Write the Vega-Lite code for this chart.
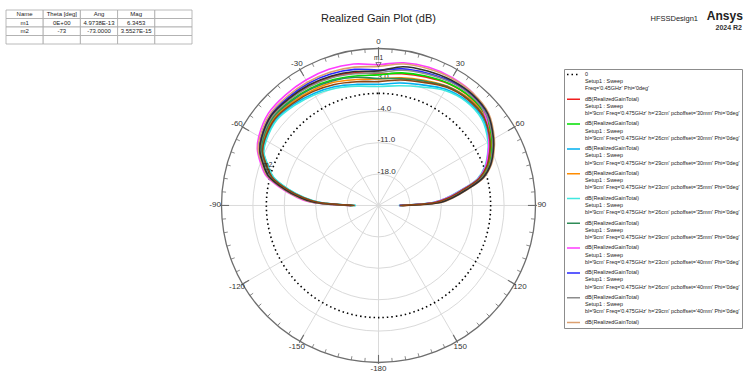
{
  "$schema": "https://vega.github.io/schema/vega-lite/v6.json",
  "background": "white",
  "padding": {"left": 5, "top": 9, "right": 0, "bottom": 0},
  "bounds": "flush",
  "spacing": 7,
  "config": {"view": {"stroke": null}, "font": "Liberation Sans"},
  "datasets": {
    "series": [
      {"s": 1, "name": "dB(RealizedGainTotal)|Setup1 : Sweep|bl='9cm' Freq='0.475GHz' h='23cm' pcboffset='30mm' Phi='0deg'"},
      {"s": 2, "name": "dB(RealizedGainTotal)|Setup1 : Sweep|bl='9cm' Freq='0.475GHz' h='26cm' pcboffset='30mm' Phi='0deg'"},
      {"s": 3, "name": "dB(RealizedGainTotal)|Setup1 : Sweep|bl='9cm' Freq='0.475GHz' h='29cm' pcboffset='30mm' Phi='0deg'"},
      {"s": 4, "name": "dB(RealizedGainTotal)|Setup1 : Sweep|bl='9cm' Freq='0.475GHz' h='23cm' pcboffset='35mm' Phi='0deg'"},
      {"s": 5, "name": "dB(RealizedGainTotal)|Setup1 : Sweep|bl='9cm' Freq='0.475GHz' h='26cm' pcboffset='35mm' Phi='0deg'"},
      {"s": 6, "name": "dB(RealizedGainTotal)|Setup1 : Sweep|bl='9cm' Freq='0.475GHz' h='29cm' pcboffset='35mm' Phi='0deg'"},
      {"s": 7, "name": "dB(RealizedGainTotal)|Setup1 : Sweep|bl='9cm' Freq='0.475GHz' h='23cm' pcboffset='40mm' Phi='0deg'"},
      {"s": 8, "name": "dB(RealizedGainTotal)|Setup1 : Sweep|bl='9cm' Freq='0.475GHz' h='26cm' pcboffset='40mm' Phi='0deg'"},
      {"s": 9, "name": "dB(RealizedGainTotal)|Setup1 : Sweep|bl='9cm' Freq='0.475GHz' h='29cm' pcboffset='40mm' Phi='0deg'"},
      {"s": 10, "name": "dB(RealizedGainTotal)|Setup1 : Sweep|bl='9cm' Freq='0.475GHz' h='23cm' pcboffset='45mm' Phi='0deg'"},
      {"s": 11, "name": "dB(RealizedGainTotal)|Setup1 : Sweep|bl='9cm' Freq='0.475GHz' h='26cm' pcboffset='45mm' Phi='0deg'"},
      {"s": 12, "name": "dB(RealizedGainTotal)|Setup1 : Sweep|bl='9cm' Freq='0.475GHz' h='29cm' pcboffset='45mm' Phi='0deg'"}
    ],
    "pts": [
      {"s":1,"t":-90,"g":-19.1},{"s":1,"t":-87,"g":-10.5},{"s":1,"t":-84,"g":-7.3},{"s":1,"t":-80,"g":-3.7},{"s":1,"t":-75,"g":0.3},{"s":1,"t":-70,"g":2.3},{"s":1,"t":-65,"g":4.2},{"s":1,"t":-60,"g":5.0},{"s":1,"t":-50,"g":6.0},{"s":1,"t":-40,"g":6.0},{"s":1,"t":-30,"g":5.8},{"s":1,"t":-20,"g":5.5},{"s":1,"t":-10,"g":5.0},{"s":1,"t":0,"g":4.3},{"s":1,"t":10,"g":4.8},{"s":1,"t":20,"g":5.5},{"s":1,"t":30,"g":6.3},{"s":1,"t":40,"g":6.6},{"s":1,"t":50,"g":6.1},{"s":1,"t":60,"g":4.1},{"s":1,"t":65,"g":2.7},{"s":1,"t":70,"g":1.1},{"s":1,"t":75,"g":-1.3},{"s":1,"t":80,"g":-5.8},{"s":1,"t":84,"g":-9.0},{"s":1,"t":87,"g":-11.8},{"s":1,"t":90,"g":-20.0},
      {"s":2,"t":-90,"g":-19.3},{"s":2,"t":-87,"g":-10.9},{"s":2,"t":-84,"g":-7.6},{"s":2,"t":-80,"g":-4.0},{"s":2,"t":-75,"g":0.0},{"s":2,"t":-70,"g":2.0},{"s":2,"t":-65,"g":3.9},{"s":2,"t":-60,"g":4.8},{"s":2,"t":-50,"g":5.7},{"s":2,"t":-40,"g":5.5},{"s":2,"t":-30,"g":5.2},{"s":2,"t":-20,"g":4.8},{"s":2,"t":-10,"g":4.3},{"s":2,"t":0,"g":4.1},{"s":2,"t":10,"g":5.0},{"s":2,"t":20,"g":5.7},{"s":2,"t":30,"g":6.4},{"s":2,"t":40,"g":6.7},{"s":2,"t":50,"g":6.2},{"s":2,"t":60,"g":4.2},{"s":2,"t":65,"g":2.8},{"s":2,"t":70,"g":1.2},{"s":2,"t":75,"g":-1.2},{"s":2,"t":80,"g":-5.7},{"s":2,"t":84,"g":-8.9},{"s":2,"t":87,"g":-11.6},{"s":2,"t":90,"g":-19.9},
      {"s":3,"t":-90,"g":-19.9},{"s":3,"t":-87,"g":-11.8},{"s":3,"t":-84,"g":-8.3},{"s":3,"t":-80,"g":-4.7},{"s":3,"t":-75,"g":-0.7},{"s":3,"t":-70,"g":1.3},{"s":3,"t":-65,"g":3.3},{"s":3,"t":-60,"g":4.1},{"s":3,"t":-50,"g":4.8},{"s":3,"t":-40,"g":4.4},{"s":3,"t":-30,"g":3.8},{"s":3,"t":-20,"g":3.2},{"s":3,"t":-10,"g":2.4},{"s":3,"t":0,"g":2.0},{"s":3,"t":10,"g":2.7},{"s":3,"t":20,"g":3.6},{"s":3,"t":30,"g":4.9},{"s":3,"t":40,"g":5.5},{"s":3,"t":50,"g":5.3},{"s":3,"t":60,"g":3.4},{"s":3,"t":65,"g":2.0},{"s":3,"t":70,"g":0.4},{"s":3,"t":75,"g":-2.0},{"s":3,"t":80,"g":-6.6},{"s":3,"t":84,"g":-9.8},{"s":3,"t":87,"g":-12.7},{"s":3,"t":90,"g":-20.4},
      {"s":4,"t":-90,"g":-18.8},{"s":4,"t":-87,"g":-11.3},{"s":4,"t":-84,"g":-7.9},{"s":4,"t":-80,"g":-4.3},{"s":4,"t":-75,"g":-0.3},{"s":4,"t":-70,"g":1.7},{"s":4,"t":-65,"g":3.7},{"s":4,"t":-60,"g":4.5},{"s":4,"t":-50,"g":5.3},{"s":4,"t":-40,"g":5.0},{"s":4,"t":-30,"g":4.6},{"s":4,"t":-20,"g":4.2},{"s":4,"t":-10,"g":3.5},{"s":4,"t":0,"g":3.2},{"s":4,"t":10,"g":3.9},{"s":4,"t":20,"g":4.7},{"s":4,"t":30,"g":5.7},{"s":4,"t":40,"g":6.2},{"s":4,"t":50,"g":5.8},{"s":4,"t":60,"g":3.8},{"s":4,"t":65,"g":2.4},{"s":4,"t":70,"g":0.8},{"s":4,"t":75,"g":-1.6},{"s":4,"t":80,"g":-6.1},{"s":4,"t":84,"g":-9.3},{"s":4,"t":87,"g":-12.1},{"s":4,"t":90,"g":-19.6},
      {"s":5,"t":-90,"g":-20.0},{"s":5,"t":-87,"g":-12.0},{"s":5,"t":-84,"g":-8.5},{"s":5,"t":-80,"g":-4.8},{"s":5,"t":-75,"g":-0.8},{"s":5,"t":-70,"g":1.2},{"s":5,"t":-65,"g":3.2},{"s":5,"t":-60,"g":3.9},{"s":5,"t":-50,"g":4.6},{"s":5,"t":-40,"g":4.1},{"s":5,"t":-30,"g":3.5},{"s":5,"t":-20,"g":2.8},{"s":5,"t":-10,"g":2.0},{"s":5,"t":0,"g":1.5},{"s":5,"t":10,"g":2.1},{"s":5,"t":20,"g":3.1},{"s":5,"t":30,"g":4.6},{"s":5,"t":40,"g":5.3},{"s":5,"t":50,"g":5.0},{"s":5,"t":60,"g":3.2},{"s":5,"t":65,"g":1.8},{"s":5,"t":70,"g":0.2},{"s":5,"t":75,"g":-2.2},{"s":5,"t":80,"g":-6.8},{"s":5,"t":84,"g":-10.0},{"s":5,"t":87,"g":-12.9},{"s":5,"t":90,"g":-20.5},
      {"s":6,"t":-90,"g":-19.4},{"s":6,"t":-87,"g":-11.0},{"s":6,"t":-84,"g":-7.7},{"s":6,"t":-80,"g":-4.1},{"s":6,"t":-75,"g":-0.1},{"s":6,"t":-70,"g":1.9},{"s":6,"t":-65,"g":3.8},{"s":6,"t":-60,"g":4.7},{"s":6,"t":-50,"g":5.6},{"s":6,"t":-40,"g":5.3},{"s":6,"t":-30,"g":5.0},{"s":6,"t":-20,"g":4.6},{"s":6,"t":-10,"g":4.0},{"s":6,"t":0,"g":3.3},{"s":6,"t":10,"g":3.7},{"s":6,"t":20,"g":4.5},{"s":6,"t":30,"g":5.6},{"s":6,"t":40,"g":6.0},{"s":6,"t":50,"g":5.7},{"s":6,"t":60,"g":3.7},{"s":6,"t":65,"g":2.3},{"s":6,"t":70,"g":0.7},{"s":6,"t":75,"g":-1.7},{"s":6,"t":80,"g":-6.2},{"s":6,"t":84,"g":-9.4},{"s":6,"t":87,"g":-12.3},{"s":6,"t":90,"g":-20.2},
      {"s":7,"t":-90,"g":-18.5},{"s":7,"t":-87,"g":-9.5},{"s":7,"t":-84,"g":-6.5},{"s":7,"t":-80,"g":-3.0},{"s":7,"t":-75,"g":1.0},{"s":7,"t":-70,"g":3.0},{"s":7,"t":-65,"g":4.8},{"s":7,"t":-60,"g":5.8},{"s":7,"t":-50,"g":7.0},{"s":7,"t":-40,"g":7.2},{"s":7,"t":-30,"g":7.3},{"s":7,"t":-20,"g":7.3},{"s":7,"t":-10,"g":7.0},{"s":7,"t":0,"g":6.4},{"s":7,"t":10,"g":7.3},{"s":7,"t":20,"g":7.8},{"s":7,"t":30,"g":7.9},{"s":7,"t":40,"g":7.7},{"s":7,"t":50,"g":6.1},{"s":7,"t":60,"g":3.4},{"s":7,"t":65,"g":1.9},{"s":7,"t":70,"g":0.4},{"s":7,"t":75,"g":-2.0},{"s":7,"t":80,"g":-6.6},{"s":7,"t":84,"g":-9.8},{"s":7,"t":87,"g":-12.7},{"s":7,"t":90,"g":-20.3},
      {"s":8,"t":-90,"g":-18.9},{"s":8,"t":-87,"g":-10.1},{"s":8,"t":-84,"g":-7.0},{"s":8,"t":-80,"g":-3.5},{"s":8,"t":-75,"g":0.6},{"s":8,"t":-70,"g":2.6},{"s":8,"t":-65,"g":4.4},{"s":8,"t":-60,"g":5.3},{"s":8,"t":-50,"g":6.4},{"s":8,"t":-40,"g":6.4},{"s":8,"t":-30,"g":6.4},{"s":8,"t":-20,"g":6.2},{"s":8,"t":-10,"g":5.8},{"s":8,"t":0,"g":5.2},{"s":8,"t":10,"g":5.9},{"s":8,"t":20,"g":6.4},{"s":8,"t":30,"g":7.0},{"s":8,"t":40,"g":7.2},{"s":8,"t":50,"g":6.5},{"s":8,"t":60,"g":4.5},{"s":8,"t":65,"g":3.1},{"s":8,"t":70,"g":1.5},{"s":8,"t":75,"g":-0.9},{"s":8,"t":80,"g":-5.4},{"s":8,"t":84,"g":-8.6},{"s":8,"t":87,"g":-11.3},{"s":8,"t":90,"g":-20.3},
      {"s":9,"t":-90,"g":-19.2},{"s":9,"t":-87,"g":-10.6},{"s":9,"t":-84,"g":-7.4},{"s":9,"t":-80,"g":-3.8},{"s":9,"t":-75,"g":0.2},{"s":9,"t":-70,"g":2.2},{"s":9,"t":-65,"g":4.1},{"s":9,"t":-60,"g":5.0},{"s":9,"t":-50,"g":5.9},{"s":9,"t":-40,"g":5.8},{"s":9,"t":-30,"g":5.6},{"s":9,"t":-20,"g":5.3},{"s":9,"t":-10,"g":4.8},{"s":9,"t":0,"g":4.6},{"s":9,"t":10,"g":5.6},{"s":9,"t":20,"g":6.2},{"s":9,"t":30,"g":6.8},{"s":9,"t":40,"g":7.0},{"s":9,"t":50,"g":6.4},{"s":9,"t":60,"g":4.4},{"s":9,"t":65,"g":3.0},{"s":9,"t":70,"g":1.4},{"s":9,"t":75,"g":-1.0},{"s":9,"t":80,"g":-5.5},{"s":9,"t":84,"g":-8.7},{"s":9,"t":87,"g":-11.4},{"s":9,"t":90,"g":-19.9},
      {"s":10,"t":-90,"g":-18.7},{"s":10,"t":-87,"g":-9.9},{"s":10,"t":-84,"g":-6.8},{"s":10,"t":-80,"g":-3.3},{"s":10,"t":-75,"g":0.7},{"s":10,"t":-70,"g":2.7},{"s":10,"t":-65,"g":4.6},{"s":10,"t":-60,"g":5.5},{"s":10,"t":-50,"g":6.6},{"s":10,"t":-40,"g":6.7},{"s":10,"t":-30,"g":6.7},{"s":10,"t":-20,"g":6.6},{"s":10,"t":-10,"g":6.3},{"s":10,"t":0,"g":6.0},{"s":10,"t":10,"g":7.0},{"s":10,"t":20,"g":7.4},{"s":10,"t":30,"g":7.7},{"s":10,"t":40,"g":7.7},{"s":10,"t":50,"g":7.0},{"s":10,"t":60,"g":4.8},{"s":10,"t":65,"g":3.4},{"s":10,"t":70,"g":1.8},{"s":10,"t":75,"g":-0.6},{"s":10,"t":80,"g":-5.0},{"s":10,"t":84,"g":-8.2},{"s":10,"t":87,"g":-10.8},{"s":10,"t":90,"g":-19.6},
      {"s":11,"t":-90,"g":-19.0},{"s":11,"t":-87,"g":-10.4},{"s":11,"t":-84,"g":-7.2},{"s":11,"t":-80,"g":-3.6},{"s":11,"t":-75,"g":0.4},{"s":11,"t":-70,"g":2.4},{"s":11,"t":-65,"g":4.2},{"s":11,"t":-60,"g":5.1},{"s":11,"t":-50,"g":6.2},{"s":11,"t":-40,"g":6.1},{"s":11,"t":-30,"g":6.0},{"s":11,"t":-20,"g":5.7},{"s":11,"t":-10,"g":5.3},{"s":11,"t":0,"g":5.0},{"s":11,"t":10,"g":6.4},{"s":11,"t":20,"g":6.9},{"s":11,"t":30,"g":7.3},{"s":11,"t":40,"g":7.4},{"s":11,"t":50,"g":6.8},{"s":11,"t":60,"g":4.6},{"s":11,"t":65,"g":3.2},{"s":11,"t":70,"g":1.6},{"s":11,"t":75,"g":-0.8},{"s":11,"t":80,"g":-5.2},{"s":11,"t":84,"g":-8.4},{"s":11,"t":87,"g":-11.0},{"s":11,"t":90,"g":-19.7},
      {"s":12,"t":-90,"g":-19.7},{"s":12,"t":-87,"g":-11.5},{"s":12,"t":-84,"g":-8.1},{"s":12,"t":-80,"g":-4.4},{"s":12,"t":-75,"g":-0.4},{"s":12,"t":-70,"g":1.6},{"s":12,"t":-65,"g":3.5},{"s":12,"t":-60,"g":4.3},{"s":12,"t":-50,"g":5.1},{"s":12,"t":-40,"g":4.7},{"s":12,"t":-30,"g":4.3},{"s":12,"t":-20,"g":3.7},{"s":12,"t":-10,"g":3.0},{"s":12,"t":0,"g":2.6},{"s":12,"t":10,"g":3.4},{"s":12,"t":20,"g":4.2},{"s":12,"t":30,"g":5.4},{"s":12,"t":40,"g":5.9},{"s":12,"t":50,"g":5.6},{"s":12,"t":60,"g":3.7},{"s":12,"t":65,"g":2.3},{"s":12,"t":70,"g":0.7},{"s":12,"t":75,"g":-1.8},{"s":12,"t":80,"g":-6.3},{"s":12,"t":84,"g":-9.5},{"s":12,"t":87,"g":-12.4},{"s":12,"t":90,"g":-20.3}
    ]
  },
  "hconcat": [
    {
      "width": 186,
      "height": 34,
      "data": {"values": [
        {"r":"h","c":"a","v":"Name"},{"r":"h","c":"b","v":"Theta [deg]"},{"r":"h","c":"c","v":"Ang"},{"r":"h","c":"d","v":"Mag"},{"r":"h","c":"e","v":""},
        {"r":"m1","c":"a","v":"m1"},{"r":"m1","c":"b","v":"0E+00"},{"r":"m1","c":"c","v":"4.9738E-13"},{"r":"m1","c":"d","v":"6.3453"},{"r":"m1","c":"e","v":""},
        {"r":"m2","c":"a","v":"m2"},{"r":"m2","c":"b","v":"-73"},{"r":"m2","c":"c","v":"-73.0000"},{"r":"m2","c":"d","v":"3.5527E-15"},{"r":"m2","c":"e","v":""},
        {"r":"x","c":"a","v":""},{"r":"x","c":"b","v":""},{"r":"x","c":"c","v":""},{"r":"x","c":"d","v":""},{"r":"x","c":"e","v":""}
      ]},
      "encoding": {
        "x": {"field": "c", "type": "nominal", "axis": null, "sort": null, "scale": {"paddingInner": 0, "paddingOuter": 0}},
        "y": {"field": "r", "type": "nominal", "axis": null, "sort": null, "scale": {"paddingInner": 0, "paddingOuter": 0}}
      },
      "layer": [
        {"mark": {"type": "rect", "fill": "white", "stroke": "#a8a8a8", "strokeWidth": 0.8}},
        {"mark": {"type": "text", "fontSize": 6, "color": "#222"}, "encoding": {"text": {"field": "v"}}}
      ]
    },
    {
      "width": 359,
      "height": 366,
      "title": {"text": "Realized Gain Plot (dB)", "fontSize": 11, "fontWeight": "normal", "color": "#222", "frame": "group", "anchor": "middle", "offset": -23, "baseline": "alphabetic"},
      "encoding": {
        "x": {"field": "x", "type": "quantitative", "axis": null, "scale": {"domain": [-40, 40], "nice": false, "zero": false}},
        "y": {"field": "y", "type": "quantitative", "axis": null, "scale": {"domain": [-38, 43.56], "nice": false, "zero": false}}
      },
      "layer": [
        {
          "data": {"values": [{"g": -18}, {"g": -11}, {"g": -4}, {"g": 3}]},
          "transform": [{"calculate": "datum.g+25", "as": "r"}, {"calculate": "0", "as": "x"}, {"calculate": "0", "as": "y"}],
          "mark": {"type": "arc", "filled": false, "stroke": "#dadada", "strokeWidth": 1, "theta": 0, "theta2": 6.2832},
          "encoding": {"radius": {"field": "r", "type": "quantitative", "stack": null, "scale": {"type": "linear", "domain": [0, 35], "range": [0, 157], "zero": true}}}
        },
        {
          "data": {"values": [{"t": -150}, {"t": -120}, {"t": -90}, {"t": -60}, {"t": -30}, {"t": 0}, {"t": 30}, {"t": 60}, {"t": 90}, {"t": 120}, {"t": 150}, {"t": 180}]},
          "transform": [{"calculate": "0", "as": "x"}, {"calculate": "0", "as": "y"}, {"calculate": "35*sin(datum.t*PI/180)", "as": "x2"}, {"calculate": "35*cos(datum.t*PI/180)", "as": "y2"}],
          "mark": {"type": "rule", "stroke": "#dadada", "strokeWidth": 1},
          "encoding": {"x2": {"field": "x2"}, "y2": {"field": "y2"}}
        },
        {
          "data": {"values": [{"g": -18, "l": "-18.0"}, {"g": -11, "l": "-11.0"}, {"g": -4, "l": "-4.0"}, {"g": 3, "l": "3.0"}]},
          "transform": [{"calculate": "0", "as": "x"}, {"calculate": "datum.g+25", "as": "y"}],
          "mark": {"type": "text", "align": "left", "baseline": "middle", "dy": -2.5, "dx": -1, "fontSize": 8, "color": "#333"},
          "encoding": {"text": {"field": "l"}}
        },
        {
          "data": {"values": [{"g": 10}]},
          "transform": [{"calculate": "datum.g+25", "as": "r"}, {"calculate": "0", "as": "x"}, {"calculate": "0", "as": "y"}],
          "mark": {"type": "arc", "filled": false, "stroke": "#6e6e6e", "strokeWidth": 1.3, "theta": 0, "theta2": 6.2832},
          "encoding": {"radius": {"field": "r", "type": "quantitative", "stack": null, "scale": {"type": "linear", "domain": [0, 35], "range": [0, 157], "zero": true}}}
        },
        {
          "data": {"values": [{"t": -150}, {"t": -120}, {"t": -90}, {"t": -60}, {"t": -30}, {"t": 0}, {"t": 30}, {"t": 60}, {"t": 90}, {"t": 120}, {"t": 150}, {"t": 180}]},
          "transform": [{"calculate": "33.3*sin(datum.t*PI/180)", "as": "x"}, {"calculate": "33.3*cos(datum.t*PI/180)", "as": "y"}, {"calculate": "35.3*sin(datum.t*PI/180)", "as": "x2"}, {"calculate": "35.3*cos(datum.t*PI/180)", "as": "y2"}],
          "mark": {"type": "rule", "stroke": "#6e6e6e", "strokeWidth": 1.1},
          "encoding": {"x2": {"field": "x2"}, "y2": {"field": "y2"}}
        },
        {
          "data": {"values": [
            {"t":-175},{"t":-170},{"t":-165},{"t":-160},{"t":-155},{"t":-150},{"t":-145},{"t":-140},{"t":-135},{"t":-130},{"t":-125},{"t":-120},
            {"t":-115},{"t":-110},{"t":-105},{"t":-100},{"t":-95},{"t":-90},{"t":-85},{"t":-80},{"t":-75},{"t":-70},{"t":-65},{"t":-60},
            {"t":-55},{"t":-50},{"t":-45},{"t":-40},{"t":-35},{"t":-30},{"t":-25},{"t":-20},{"t":-15},{"t":-10},{"t":-5},{"t":0},
            {"t":5},{"t":10},{"t":15},{"t":20},{"t":25},{"t":30},{"t":35},{"t":40},{"t":45},{"t":50},{"t":55},{"t":60},
            {"t":65},{"t":70},{"t":75},{"t":80},{"t":85},{"t":90},{"t":95},{"t":100},{"t":105},{"t":110},{"t":115},{"t":120},
            {"t":125},{"t":130},{"t":135},{"t":140},{"t":145},{"t":150},{"t":155},{"t":160},{"t":165},{"t":170},{"t":175},{"t":180}
          ]},
          "transform": [{"calculate": "34.1*sin(datum.t*PI/180)", "as": "x"}, {"calculate": "34.1*cos(datum.t*PI/180)", "as": "y"}, {"calculate": "35*sin(datum.t*PI/180)", "as": "x2"}, {"calculate": "35*cos(datum.t*PI/180)", "as": "y2"}],
          "mark": {"type": "rule", "stroke": "#6e6e6e", "strokeWidth": 0.8},
          "encoding": {"x2": {"field": "x2"}, "y2": {"field": "y2"}}
        },
        {
          "data": {"values": [{"t": -150, "l": "-150"}, {"t": -120, "l": "-120"}, {"t": -90, "l": "-90"}, {"t": -60, "l": "-60"}, {"t": -30, "l": "-30"}, {"t": 0, "l": "0"}, {"t": 30, "l": "30"}, {"t": 60, "l": "60"}, {"t": 90, "l": "90"}, {"t": 120, "l": "120"}, {"t": 150, "l": "150"}, {"t": 180, "l": "-180"}]},
          "transform": [{"calculate": "36.4*sin(datum.t*PI/180)", "as": "x"}, {"calculate": "36.4*cos(datum.t*PI/180)", "as": "y"}],
          "mark": {"type": "text", "align": "center", "baseline": "middle", "fontSize": 8, "color": "#333"},
          "encoding": {"text": {"field": "l"}}
        },
        {
          "data": {"values": [{"g": 0, "name": "0|Setup1 : Sweep|Freq='0.45GHz' Phi='0deg'"}]},
          "transform": [{"calculate": "datum.g+25", "as": "r"}, {"calculate": "0", "as": "x"}, {"calculate": "0", "as": "y"}],
          "mark": {"type": "arc", "filled": false, "strokeWidth": 1.6, "strokeDash": [1.5, 3], "theta": 0, "theta2": 6.2832},
          "encoding": {
            "radius": {"field": "r", "type": "quantitative", "stack": null, "scale": {"type": "linear", "domain": [0, 35], "range": [0, 157], "zero": true}},
            "color": {
              "field": "name", "type": "nominal",
              "scale": {
                "domain": [
                  "0|Setup1 : Sweep|Freq='0.45GHz' Phi='0deg'",
                  "dB(RealizedGainTotal)|Setup1 : Sweep|bl='9cm' Freq='0.475GHz' h='23cm' pcboffset='30mm' Phi='0deg'",
                  "dB(RealizedGainTotal)|Setup1 : Sweep|bl='9cm' Freq='0.475GHz' h='26cm' pcboffset='30mm' Phi='0deg'",
                  "dB(RealizedGainTotal)|Setup1 : Sweep|bl='9cm' Freq='0.475GHz' h='29cm' pcboffset='30mm' Phi='0deg'",
                  "dB(RealizedGainTotal)|Setup1 : Sweep|bl='9cm' Freq='0.475GHz' h='23cm' pcboffset='35mm' Phi='0deg'",
                  "dB(RealizedGainTotal)|Setup1 : Sweep|bl='9cm' Freq='0.475GHz' h='26cm' pcboffset='35mm' Phi='0deg'",
                  "dB(RealizedGainTotal)|Setup1 : Sweep|bl='9cm' Freq='0.475GHz' h='29cm' pcboffset='35mm' Phi='0deg'",
                  "dB(RealizedGainTotal)|Setup1 : Sweep|bl='9cm' Freq='0.475GHz' h='23cm' pcboffset='40mm' Phi='0deg'",
                  "dB(RealizedGainTotal)|Setup1 : Sweep|bl='9cm' Freq='0.475GHz' h='26cm' pcboffset='40mm' Phi='0deg'",
                  "dB(RealizedGainTotal)|Setup1 : Sweep|bl='9cm' Freq='0.475GHz' h='29cm' pcboffset='40mm' Phi='0deg'",
                  "dB(RealizedGainTotal)|Setup1 : Sweep|bl='9cm' Freq='0.475GHz' h='23cm' pcboffset='45mm' Phi='0deg'",
                  "dB(RealizedGainTotal)|Setup1 : Sweep|bl='9cm' Freq='0.475GHz' h='26cm' pcboffset='45mm' Phi='0deg'",
                  "dB(RealizedGainTotal)|Setup1 : Sweep|bl='9cm' Freq='0.475GHz' h='29cm' pcboffset='45mm' Phi='0deg'"
                ],
                "range": ["#000000", "#f01e1e", "#00e000", "#00b0f0", "#ff8c00", "#40e8e0", "#2e8b57", "#ff3cff", "#2828ff", "#8c8c8c", "#dca070", "#303030", "#8b4513"]
              },
              "legend": {
                "title": null,
                "orient": "none",
                "legendX": 558,
                "legendY": 59,
                "values": [
                  "0|Setup1 : Sweep|Freq='0.45GHz' Phi='0deg'",
                  "dB(RealizedGainTotal)|Setup1 : Sweep|bl='9cm' Freq='0.475GHz' h='23cm' pcboffset='30mm' Phi='0deg'",
                  "dB(RealizedGainTotal)|Setup1 : Sweep|bl='9cm' Freq='0.475GHz' h='26cm' pcboffset='30mm' Phi='0deg'",
                  "dB(RealizedGainTotal)|Setup1 : Sweep|bl='9cm' Freq='0.475GHz' h='29cm' pcboffset='30mm' Phi='0deg'",
                  "dB(RealizedGainTotal)|Setup1 : Sweep|bl='9cm' Freq='0.475GHz' h='23cm' pcboffset='35mm' Phi='0deg'",
                  "dB(RealizedGainTotal)|Setup1 : Sweep|bl='9cm' Freq='0.475GHz' h='26cm' pcboffset='35mm' Phi='0deg'",
                  "dB(RealizedGainTotal)|Setup1 : Sweep|bl='9cm' Freq='0.475GHz' h='29cm' pcboffset='35mm' Phi='0deg'",
                  "dB(RealizedGainTotal)|Setup1 : Sweep|bl='9cm' Freq='0.475GHz' h='23cm' pcboffset='40mm' Phi='0deg'",
                  "dB(RealizedGainTotal)|Setup1 : Sweep|bl='9cm' Freq='0.475GHz' h='26cm' pcboffset='40mm' Phi='0deg'",
                  "dB(RealizedGainTotal)|Setup1 : Sweep|bl='9cm' Freq='0.475GHz' h='29cm' pcboffset='40mm' Phi='0deg'",
                  "dB(RealizedGainTotal)|Setup1 : Sweep|bl='9cm' Freq='0.475GHz' h='23cm' pcboffset='45mm' Phi='0deg'"
                ],
                "labelExpr": "datum.index == 10 ? 'dB(RealizedGainTotal)' : split(datum.label, '|')",
                "symbolType": "M-1,0H4.2",
                "symbolSize": 25,
                "symbolStrokeWidth": 1.5,
                "labelFontSize": 5.4,
                "labelColor": "#222",
                "labelBaseline": "top",
                "labelLimit": 160,
                "labelOffset": 12,
                "rowPadding": 3.8,
                "padding": 2,
                "fillColor": "white",
                "strokeColor": "#8c8c8c",
                "encode": {
                  "symbols": {"update": {"strokeDash": {"signal": "datum.index === 0 ? [1.5, 3] : [1, 0]"}}},
                  "labels": {"update": {"lineHeight": {"value": 7.3}, "dy": {"value": -2.8}}}
                }
              }
            }
          }
        },
        {
          "data": {"name": "pts"},
          "transform": [
            {"lookup": "s", "from": {"data": {"name": "series"}, "key": "s", "fields": ["name"]}},
            {"calculate": "(datum.g+25)*sin(datum.t*PI/180)", "as": "x"},
            {"calculate": "(datum.g+25)*cos(datum.t*PI/180)", "as": "y"}
          ],
          "mark": {"type": "line", "interpolate": "catmull-rom", "strokeWidth": 1.6},
          "encoding": {
            "order": {"field": "t", "type": "quantitative"},
            "color": {
              "field": "name", "type": "nominal",
              "scale": {
                "domain": [
                  "0|Setup1 : Sweep|Freq='0.45GHz' Phi='0deg'",
                  "dB(RealizedGainTotal)|Setup1 : Sweep|bl='9cm' Freq='0.475GHz' h='23cm' pcboffset='30mm' Phi='0deg'",
                  "dB(RealizedGainTotal)|Setup1 : Sweep|bl='9cm' Freq='0.475GHz' h='26cm' pcboffset='30mm' Phi='0deg'",
                  "dB(RealizedGainTotal)|Setup1 : Sweep|bl='9cm' Freq='0.475GHz' h='29cm' pcboffset='30mm' Phi='0deg'",
                  "dB(RealizedGainTotal)|Setup1 : Sweep|bl='9cm' Freq='0.475GHz' h='23cm' pcboffset='35mm' Phi='0deg'",
                  "dB(RealizedGainTotal)|Setup1 : Sweep|bl='9cm' Freq='0.475GHz' h='26cm' pcboffset='35mm' Phi='0deg'",
                  "dB(RealizedGainTotal)|Setup1 : Sweep|bl='9cm' Freq='0.475GHz' h='29cm' pcboffset='35mm' Phi='0deg'",
                  "dB(RealizedGainTotal)|Setup1 : Sweep|bl='9cm' Freq='0.475GHz' h='23cm' pcboffset='40mm' Phi='0deg'",
                  "dB(RealizedGainTotal)|Setup1 : Sweep|bl='9cm' Freq='0.475GHz' h='26cm' pcboffset='40mm' Phi='0deg'",
                  "dB(RealizedGainTotal)|Setup1 : Sweep|bl='9cm' Freq='0.475GHz' h='29cm' pcboffset='40mm' Phi='0deg'",
                  "dB(RealizedGainTotal)|Setup1 : Sweep|bl='9cm' Freq='0.475GHz' h='23cm' pcboffset='45mm' Phi='0deg'",
                  "dB(RealizedGainTotal)|Setup1 : Sweep|bl='9cm' Freq='0.475GHz' h='26cm' pcboffset='45mm' Phi='0deg'",
                  "dB(RealizedGainTotal)|Setup1 : Sweep|bl='9cm' Freq='0.475GHz' h='29cm' pcboffset='45mm' Phi='0deg'"
                ],
                "range": ["#000000", "#f01e1e", "#00e000", "#00b0f0", "#ff8c00", "#40e8e0", "#2e8b57", "#ff3cff", "#2828ff", "#8c8c8c", "#dca070", "#303030", "#8b4513"]
              }
            }
          }
        },
        {
          "data": {"values": [{"n": "m1", "t": 0, "g": 6.35}, {"n": "m2", "t": -73, "g": 0.8}]},
          "transform": [{"calculate": "(datum.g+25)*sin(datum.t*PI/180)", "as": "x"}, {"calculate": "(datum.g+25)*cos(datum.t*PI/180)", "as": "y"}],
          "layer": [
            {"mark": {"type": "point", "shape": "triangle-down", "size": 28, "filled": false, "stroke": "#222", "strokeWidth": 0.8}},
            {"mark": {"type": "text", "dy": -7, "fontSize": 6.5, "color": "#222"}, "encoding": {"text": {"field": "n"}}}
          ]
        },
        {
          "data": {"values": [{"txt": "HFSSDesign1"}]},
          "transform": [{"calculate": "71.2", "as": "x"}, {"calculate": "41.45", "as": "y"}],
          "mark": {"type": "text", "align": "right", "baseline": "middle", "fontSize": 7.5, "color": "#222"},
          "encoding": {"text": {"field": "txt"}}
        },
        {
          "data": {"values": [{"txt": "Ansys"}]},
          "transform": [{"calculate": "81.2", "as": "x"}, {"calculate": "42.15", "as": "y"}],
          "mark": {"type": "text", "align": "right", "baseline": "middle", "fontSize": 12, "fontWeight": "bold", "color": "#222"},
          "encoding": {"text": {"field": "txt"}}
        },
        {
          "data": {"values": [{"txt": "2024 R2"}]},
          "transform": [{"calculate": "81.0", "as": "x"}, {"calculate": "39.6", "as": "y"}],
          "mark": {"type": "text", "align": "right", "baseline": "middle", "fontSize": 7, "fontWeight": "bold", "color": "#333"},
          "encoding": {"text": {"field": "txt"}}
        }
      ]
    }
  ]
}
